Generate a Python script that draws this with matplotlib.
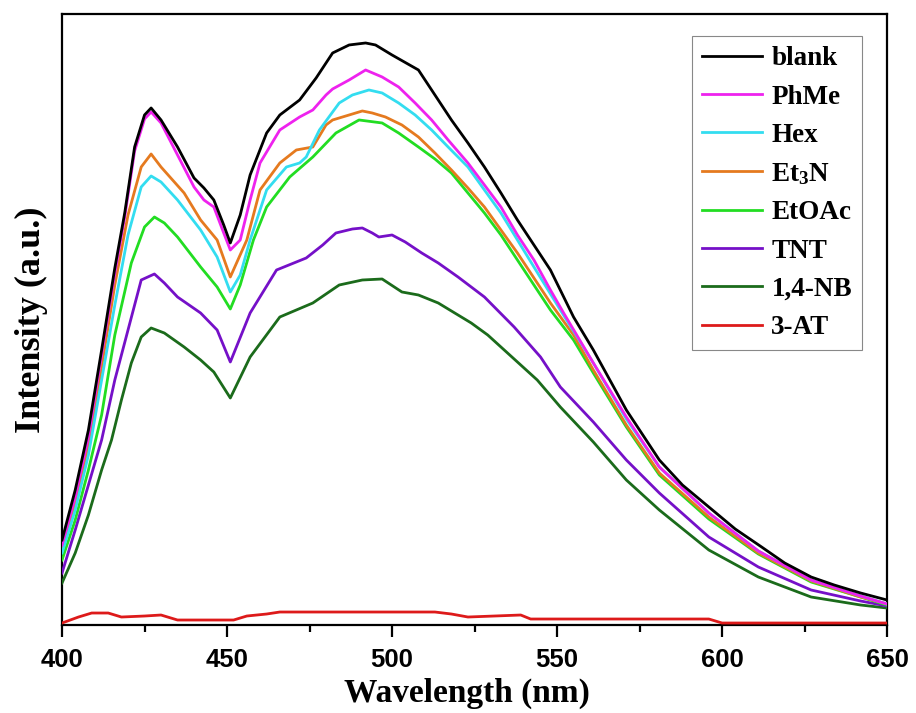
import matplotlib
matplotlib.use('Agg')
import matplotlib.pyplot as plt

# wavelength (nm) / intensity (a.u.)
blank_x = [400, 404, 408, 412, 416, 419, 422, 425, 427, 430, 435, 440, 443, 446, 449, 451, 454, 457, 462, 466,
           472, 477, 482, 487, 492, 495, 500, 508, 513, 518, 523, 528, 533, 538, 543, 548, 555, 561, 566, 571,
           576, 581, 588, 596, 604, 612, 619, 627, 634, 642, 650]
blank_y = [85, 135, 195, 275, 357, 412, 478, 510, 517, 505, 478, 447, 437, 425, 400, 382, 410, 450, 492, 510,
           525, 547, 572, 580, 582, 580, 570, 555, 530, 505, 482, 458, 432, 405, 380, 355, 308, 275, 245, 215,
           190, 165, 140, 118, 96, 78, 62, 48, 40, 32, 25]

phme_x = [400, 404, 408, 412, 416, 419, 422, 425, 427, 430, 435, 440, 443, 446, 449, 451, 454, 457, 460, 466,
          472, 476, 480, 482, 487, 492, 497, 502, 507, 512, 517, 523, 528, 533, 538, 543, 548, 552, 561, 571,
          581, 596, 611, 627, 642, 650]
phme_y = [80, 128, 188, 270, 352, 408, 474, 506, 513, 502, 470, 438, 425, 418, 392, 375, 385, 425, 462, 495,
          508, 515, 530, 536, 545, 555, 548, 538, 522, 505, 485, 462, 440, 418, 390, 365, 335, 312, 262, 208,
          158, 112, 74, 45, 29, 21]

hex_x = [400, 404, 408, 412, 416, 420, 424, 427, 430, 435, 442, 447, 451, 454, 457, 462, 468, 472, 474, 478,
         484, 488, 493, 497, 502, 507, 512, 517, 523, 528, 533, 538, 543, 551, 561, 571, 581, 596, 611, 627,
         642, 650]
hex_y = [72, 115, 170, 245, 320, 390, 438, 449, 443, 425, 395, 368, 333, 350, 385, 435, 458, 462, 468, 495,
         522, 530, 535, 532, 522, 510, 495, 478, 458, 435, 412, 385, 358, 315, 262, 206, 158, 112, 74, 45,
         29, 21]

et3n_x = [400, 404, 408, 412, 416, 420, 424, 427, 430, 437, 442, 447, 451, 456, 460, 466, 471, 476, 480, 482,
          487, 491, 494, 498, 503, 508, 513, 518, 523, 528, 533, 538, 543, 548, 555, 561, 571, 581, 596, 611,
          627, 642, 650]
et3n_y = [78, 122, 180, 258, 340, 410, 458, 471, 458, 432, 405, 385, 348, 385, 435, 462, 475, 478, 500, 505,
          510, 514, 512, 508, 500, 488, 472, 455, 437, 418, 395, 372, 347, 322, 290, 255, 200, 152, 108, 72,
          44, 28, 21]

etoac_x = [400, 404, 408, 412, 416, 421, 425, 428, 431, 435, 442, 447, 451, 454, 458, 462, 469, 476, 483, 490,
           497, 502, 508, 513, 518, 523, 528, 533, 538, 543, 548, 555, 561, 571, 581, 596, 611, 627, 642, 650]
etoac_y = [65, 105, 155, 210, 290, 362, 398, 408, 402, 388, 358, 338, 316, 340, 385, 418, 448, 468, 492, 505,
           502, 492, 478, 466, 452, 432, 412, 390, 365, 340, 315, 285, 252, 198, 150, 106, 71, 43, 28, 20]

tnt_x = [400, 404, 408, 412, 416, 420, 424, 428, 431, 435, 442, 447, 451, 457, 465, 474, 479, 483, 488, 491,
         494, 496, 500, 504, 509, 514, 520, 528, 537, 545, 551, 561, 571, 581, 596, 611, 627, 642, 650]
tnt_y = [52, 95, 140, 185, 245, 295, 345, 351, 342, 328, 312, 295, 263, 312, 355, 367, 380, 392, 396, 397,
         392, 388, 390, 383, 372, 362, 348, 328, 298, 268, 238, 203, 165, 132, 88, 58, 35, 24, 19]

nb_x = [400, 404, 408, 412, 415, 418, 421, 424, 427, 431, 437, 442, 446, 451, 457, 466, 476, 484, 491, 497,
        503, 508, 514, 519, 524, 529, 534, 539, 544, 551, 561, 571, 581, 596, 611, 627, 642, 650]
nb_y = [42, 72, 110, 155, 185, 225, 262, 288, 297, 292, 278, 265, 253, 227, 268, 308, 322, 340, 345, 346,
        333, 330, 322, 312, 302, 290, 275, 260, 245, 218, 183, 145, 115, 75, 48, 28, 20, 17]

at_x = [400, 405, 409, 414, 418, 425, 430, 435, 452, 456, 462, 466, 513, 518, 523, 539, 542, 596, 600, 650]
at_y = [2, 8, 12, 12, 8, 9, 10, 5, 5, 9, 11, 13, 13, 11, 8, 10, 6, 6, 2, 2]

labels = ['blank', 'PhMe', 'Hex', 'Et$_3$N', 'EtOAc', 'TNT', '1,4-NB', '3-AT']
colors = ['#000000', '#ee22ee', '#33ddf0', '#e57a1f', '#22dd22', '#7510c8', '#1b6b1b', '#dd1a1a']
series = [(blank_x, blank_y), (phme_x, phme_y), (hex_x, hex_y), (et3n_x, et3n_y),
          (etoac_x, etoac_y), (tnt_x, tnt_y), (nb_x, nb_y), (at_x, at_y)]

plt.rcParams['mathtext.fontset'] = 'custom'
plt.rcParams['mathtext.rm'] = 'Liberation Serif:bold'
plt.rcParams['mathtext.default'] = 'rm'

fig = plt.figure(figsize=(9.16, 7.13), dpi=100)
ax = fig.add_axes([0.0677, 0.1234, 0.9007, 0.857])

for i, ((x, y), lab, c) in enumerate(zip(series, labels, colors)):
    ax.plot(x, y, color=c, lw=2, label=lab, zorder=10 - i)

ax.set_xlim(400, 650)
ax.set_ylim(0, 611)
ax.set_xticks([400, 450, 500, 550, 600, 650])
ax.set_xticks([425, 475, 525, 575, 625], minor=True)
ax.set_yticks([])
for s in ax.spines.values():
    s.set_linewidth(1.6)
ax.tick_params(axis='x', which='major', length=8.5, width=1.6, direction='out', pad=8)
ax.tick_params(axis='x', which='minor', length=5, width=1.6, direction='out')
for t in ax.get_xticklabels():
    t.set_fontfamily('Liberation Sans')
    t.set_fontweight('bold')
    t.set_fontsize(18.5)

ax.set_xlabel('Wavelength (nm)', fontfamily='Liberation Serif', fontweight='bold', fontsize=24)
ax.xaxis.set_label_coords(0.491, -0.086)
ax.set_ylabel('Intensity (a.u.)', fontfamily='Liberation Serif', fontweight='bold', fontsize=26, labelpad=10)

leg = ax.legend(loc='upper right', bbox_to_anchor=(0.970, 0.964), borderaxespad=0,
                prop={'family': 'Liberation Serif', 'weight': 'bold', 'size': 19.5},
                handlelength=2.2, handletextpad=0.35, labelspacing=0.49, borderpad=0.38,
                fancybox=False, framealpha=1)
leg.get_frame().set_edgecolor('#888888')
leg.get_frame().set_linewidth(0.8)

fig.savefig('out.png', dpi=100)
